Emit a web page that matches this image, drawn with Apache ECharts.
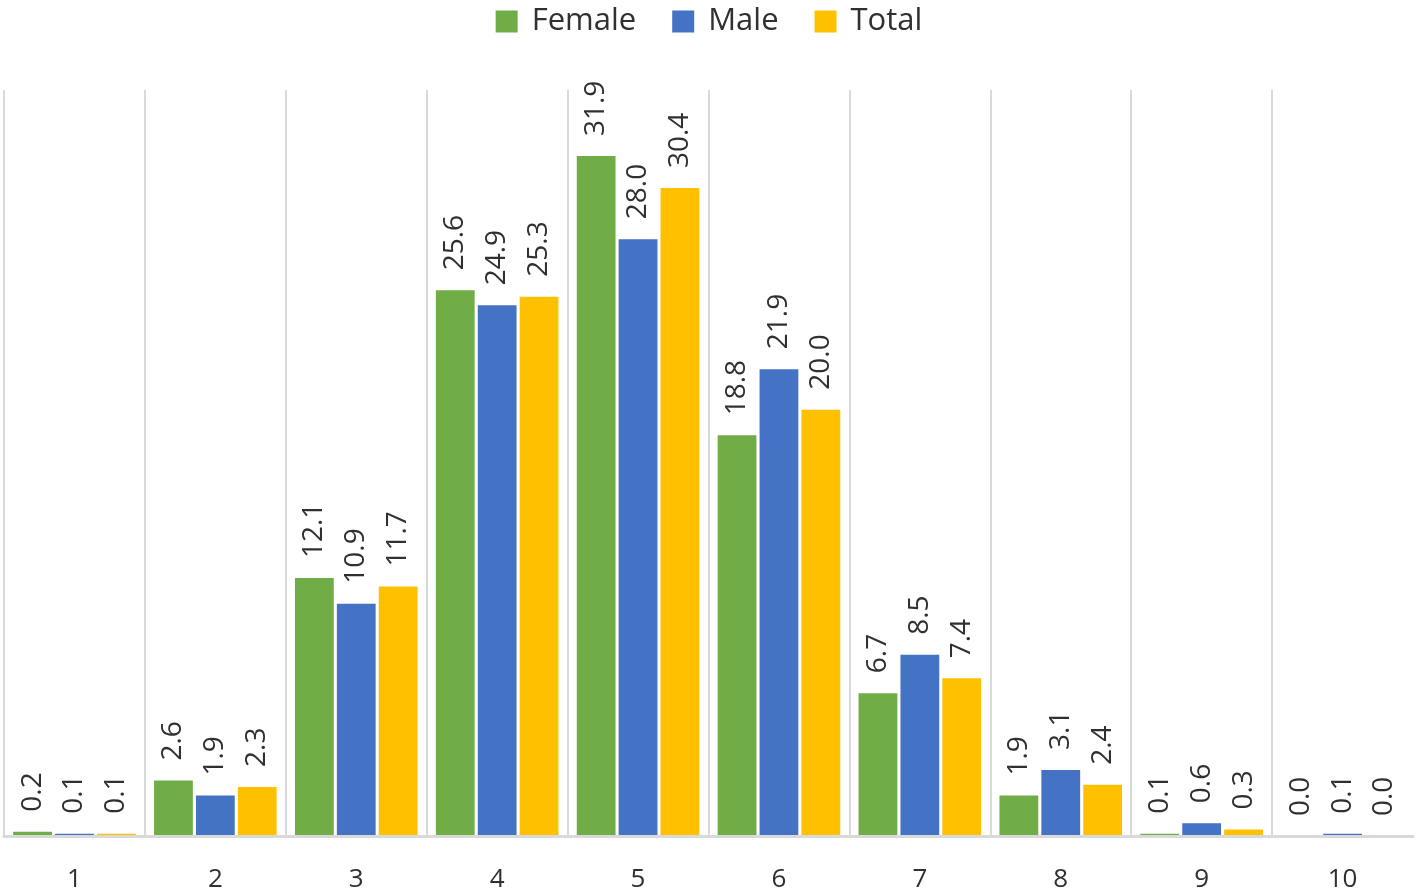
<!DOCTYPE html>
<html>
<head>
<meta charset="utf-8">
<script src="https://cdn.jsdelivr.net/npm/echarts@6/dist/echarts.min.js"></script>
<style>html,body{margin:0;padding:0;background:#fff;}#c{width:1418px;height:894px;}</style>
</head>
<body>
<div id="c"></div>
<script>
const categories = ['1','2','3','4','5','6','7','8','9','10'];
const female = [0.2, 2.6, 12.1, 25.6, 31.9, 18.8, 6.7, 1.9, 0.1, 0.0];
const male = [0.1, 1.9, 10.9, 24.9, 28.0, 21.9, 8.5, 3.1, 0.6, 0.1];
const total = [0.1, 2.3, 11.7, 25.3, 30.4, 20.0, 7.4, 2.4, 0.3, 0.0];
const seriesNames = ['Female', 'Male', 'Total'];
const seriesColors = ['#70AD47', '#4472C4', '#FFC000'];

const FONT = '"Open Sans", "Noto Sans", sans-serif';
const labelCfg = {
  show: true,
  position: 'top',
  rotate: 90,
  align: 'left',
  verticalAlign: 'middle',
  distance: 20,
  fontSize: 28,
  fontFamily: FONT,
  color: '#303030',
  formatter: p => p.value.toFixed(1)
};
const gridColors = [];
for (let i = 0; i < categories.length; i++) gridColors.push('#d9d9d9');
gridColors.push('rgba(0,0,0,0)');

const chart = echarts.init(document.getElementById('c'), null, {renderer: 'canvas'});
chart.setOption({
  animation: false,
  backgroundColor: '#fff',
  legend: {
    top: 1,
    left: 'center',
    itemWidth: 22,
    itemHeight: 22,
    itemGap: 36,
    icon: 'rect',
    textStyle: {fontSize: 31, fontFamily: FONT, color: '#303030', padding: [0, 0, 0, 9]},
    data: seriesNames
  },
  grid: {left: 4, right: 5, top: 90, bottom: 58, containLabel: false},
  xAxis: {
    type: 'category',
    data: categories,
    z: 5,
    axisLine: {show: true, lineStyle: {color: '#d9d9d9', width: 3}},
    axisTick: {show: false},
    axisLabel: {fontSize: 26, fontFamily: FONT, color: '#303030', margin: 31},
    splitLine: {show: true, lineStyle: {color: gridColors, width: 2}}
  },
  yAxis: {
    type: 'value',
    min: 0,
    max: 35,
    show: false,
    splitLine: {show: false}
  },
  series: [
    {name: seriesNames[0], type: 'bar', data: female, itemStyle: {color: seriesColors[0]}, barGap: '8%', barCategoryGap: '13%', label: labelCfg},
    {name: seriesNames[1], type: 'bar', data: male, itemStyle: {color: seriesColors[1]}, barGap: '8%', barCategoryGap: '13%', label: labelCfg},
    {name: seriesNames[2], type: 'bar', data: total, itemStyle: {color: seriesColors[2]}, barGap: '8%', barCategoryGap: '13%', label: labelCfg}
  ]
});
</script>
</body>
</html>
